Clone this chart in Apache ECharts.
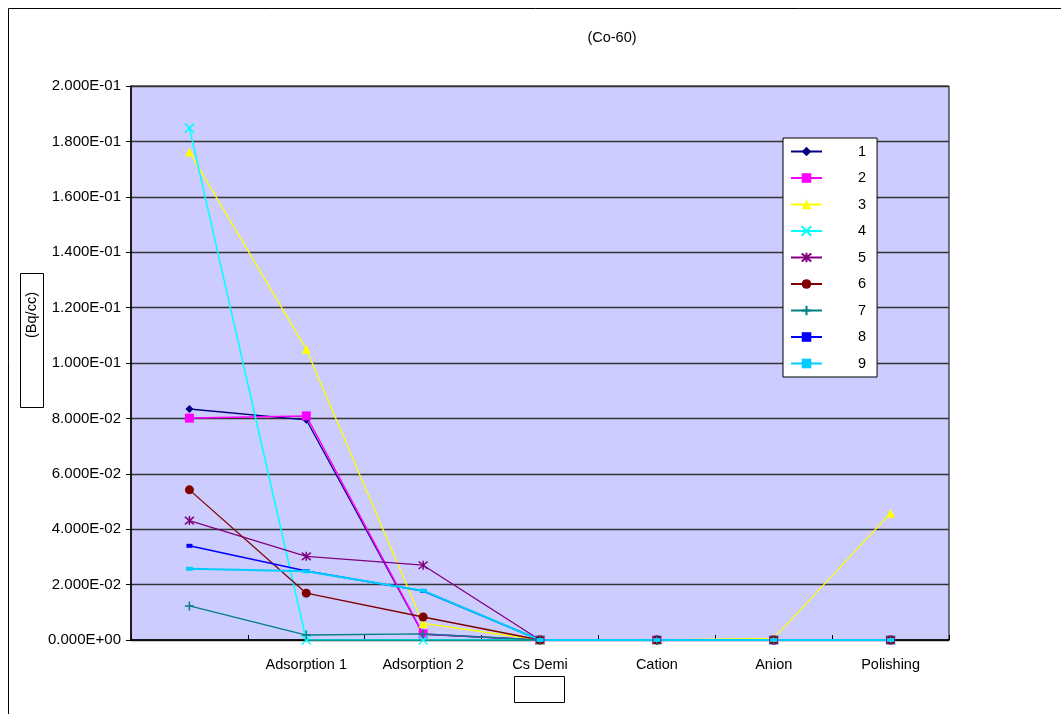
<!DOCTYPE html>
<html>
<head>
<meta charset="utf-8">
<script src="https://cdn.jsdelivr.net/npm/echarts@6/dist/echarts.min.js"></script>
<style>
html,body{margin:0;padding:0;background:#fff;}
#c{width:1061px;height:714px;}
</style>
</head>
<body>
<div id="c"></div>
<script>
const categories = ['', 'Adsorption 1', 'Adsorption 2', 'Cs Demi', 'Cation', 'Anion', 'Polishing'];
const seriesNames = ['1', '2', '3', '4', '5', '6', '7', '8', '9'];
const s1 = [0.0834, 0.0795, 0.0020, 0, 0, 0, 0];
const s2 = [0.0801, 0.0809, 0.0022, 0, 0, 0, 0];
const s3 = [0.1762, 0.1050, 0.0060, 0, 0, 0.0006, 0.0458];
const s4 = [0.1848, 0, 0, 0, 0, 0, 0];
const s5 = [0.0431, 0.0302, 0.0270, 0, 0, 0, 0];
const s6 = [0.0542, 0.0169, 0.0083, 0, 0, 0, 0];
const s7 = [0.0123, 0.0018, 0.0022, 0, 0, 0, 0];
const s8 = [0.0340, 0.0249, 0.0177, 0, 0, 0, 0];
const s9 = [0.0257, 0.0248, 0.0178, 0, 0, 0, 0];
const yTicks = { min: 0, max: 0.2, interval: 0.02 };
const titleText = '(Co-60)';
const yName = '(Bq/cc)';

const FONT = '"Liberation Sans", Arial, sans-serif';
const colors = ['#000080', '#FF00FF', '#FFFF00', '#00FFFF', '#800080', '#800000', '#008080', '#0000FF', '#00CCFF'];
const symbols = [
  'diamond', 'rect', 'triangle',
  'path://M0,0L10,10M10,0L0,10',
  'path://M0,0L10,10M10,0L0,10M5,-1L5,11',
  'circle',
  'path://M5,0L5,10M0,5L10,5',
  'rect', 'rect'
];
const symSizes = [8, 9, 9, 9, 9, 9, 9, [6, 4], [7, 4]];
const widths = [1.3, 1.5, 1.3, 1.5, 1.3, 1.3, 1.3, 1.6, 2];
const strokeSym = [false, false, false, true, true, false, true, false, false];
const data = [s1, s2, s3, s4, s5, s6, s7, s8, s9];

function fmt(v) {
  const s = Number(v).toExponential(3);
  const parts = s.split('e');
  const n = parseInt(parts[1], 10);
  return parts[0] + 'E' + (n < 0 ? '-' : '+') + String(Math.abs(n)).padStart(2, '0');
}

const series = data.map((d, i) => ({
  name: seriesNames[i],
  type: 'line',
  data: d,
  symbol: symbols[i],
  symbolSize: symSizes[i],
  showAllSymbol: true,
  lineStyle: { color: colors[i], width: widths[i] },
  itemStyle: strokeSym[i]
    ? { color: colors[i], borderColor: colors[i], borderWidth: 1.5 }
    : { color: colors[i], borderWidth: 0 },
  emphasis: { disabled: true },
  animation: false
}));

const chart = echarts.init(document.getElementById('c'), null, { renderer: 'canvas' });
chart.setOption({
  animation: false,
  backgroundColor: '#ffffff',
  textStyle: { fontFamily: FONT },
  grid: {
    left: 131, top: 86, right: 112, bottom: 74,
    show: true, backgroundColor: '#CCCCFF', borderColor: '#000', borderWidth: 1
  },
  xAxis: {
    type: 'category',
    data: categories,
    boundaryGap: true,
    axisLine: { lineStyle: { color: '#000', width: 1.5 } },
    axisTick: { show: true, inside: true, length: 5, lineStyle: { color: '#000' } },
    axisLabel: { color: '#000', fontSize: 14.5, fontFamily: FONT, margin: 17, interval: 0 },
    splitLine: { show: false }
  },
  yAxis: {
    type: 'value',
    min: yTicks.min, max: yTicks.max, interval: yTicks.interval,
    axisLine: { show: true, lineStyle: { color: '#000', width: 1.5 } },
    axisTick: { show: true, inside: false, length: 5, lineStyle: { color: '#000' } },
    axisLabel: { color: '#000', fontSize: 15, fontFamily: FONT, margin: 10, formatter: fmt },
    splitLine: { show: true, lineStyle: { color: '#333', width: 1.3 } }
  },
  legend: {
    orient: 'vertical',
    left: 783, top: 138,
    backgroundColor: '#fff',
    borderColor: '#000', borderWidth: 1,
    padding: [6, 11, 6, 7],
    itemWidth: 31, itemHeight: 12, itemGap: 11.5,
    textStyle: { color: '#000', fontSize: 14.5, fontFamily: FONT, padding: [0, 0, 0, 31] },
    data: seriesNames
  },
  graphic: [
    { type: 'rect', shape: { x: 8.5, y: 8.5, width: 1100, height: 800 }, style: { fill: 'none', stroke: '#000', lineWidth: 1 }, silent: true, z: -10 },
    { type: 'text', x: 612, y: 30, style: { text: titleText, font: '14.5px ' + FONT, fill: '#000', align: 'center' } },
    { type: 'rect', shape: { x: 20.5, y: 273.5, width: 23, height: 134 }, style: { fill: 'none', stroke: '#000', lineWidth: 1 } },
    { type: 'text', x: 31.5, y: 315, rotation: Math.PI / 2, style: { text: yName, font: '14.5px ' + FONT, fill: '#000', align: 'center', verticalAlign: 'middle' } },
    { type: 'rect', shape: { x: 514.5, y: 676.5, width: 50, height: 26 }, style: { fill: 'none', stroke: '#000', lineWidth: 1 } }
  ],
  series: series
});
</script>
</body>
</html>
